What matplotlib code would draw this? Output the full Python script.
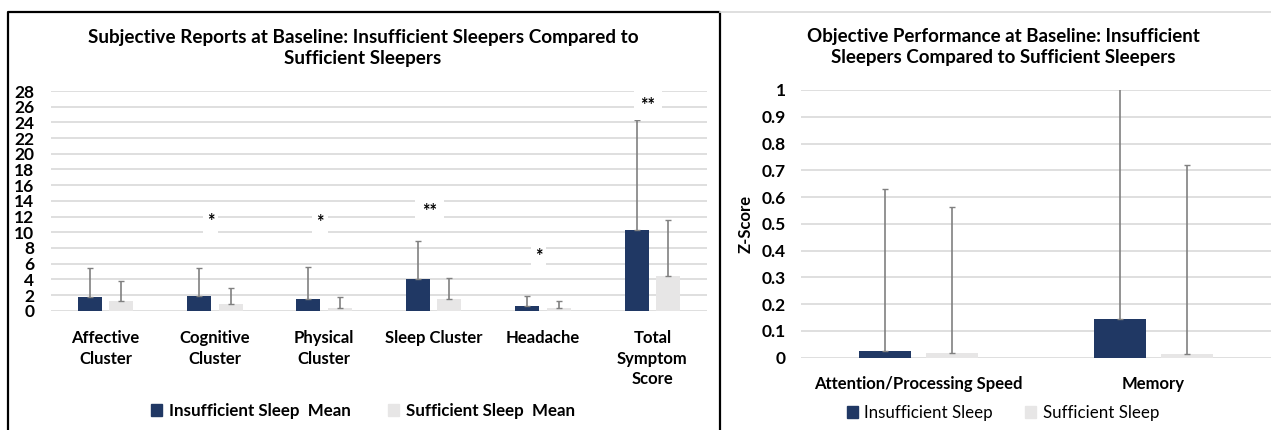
import numpy as np
import matplotlib
matplotlib.use('Agg')
import matplotlib.pyplot as plt
from matplotlib.patches import Patch
from matplotlib.lines import Line2D

plt.rcParams['font.family'] = ['Lato', 'DejaVu Sans']
plt.rcParams['font.weight'] = 'bold'

# left chart: subjective reports
subj_cats = ['Affective\nCluster', 'Cognitive\nCluster', 'Physical\nCluster',
             'Sleep Cluster', 'Headache', 'Total\nSymptom\nScore']
subj_insuff = [1.78, 1.92, 1.54, 4.04, 0.64, 10.29]
subj_insuff_sd = [3.62, 3.52, 4.03, 4.84, 1.23, 14.06]
subj_suff = [1.24, 0.85, 0.35, 1.49, 0.30, 4.38]
subj_suff_sd = [2.50, 2.05, 1.35, 2.71, 0.90, 7.18]
subj_sig = ['', '*', '*', '**', '*', '**']
subj_sig_y = [0, 11.4, 11.3, 12.7, 6.9, 26.2]

# right chart: objective performance
obj_cats = ['Attention/Processing Speed', 'Memory']
obj_insuff = [0.025, 0.145]
obj_insuff_sd = [0.605, 0.90]
obj_suff = [0.018, 0.012]
obj_suff_sd = [0.545, 0.707]

NAVY = '#203864'
LIGHT = '#E7E6E6'
GRID = '#D9D9D9'
ERR = '#808080'

W, H = 1271, 430
fig = plt.figure(figsize=(W / 100, H / 100), dpi=100)


def px_axes(x0, x1, ytop, ybot):
    return fig.add_axes([x0 / W, 1 - ybot / H, (x1 - x0) / W, (ybot - ytop) / H])


def style(ax):
    for s in ax.spines.values():
        s.set_visible(False)
    ax.tick_params(length=0)
    ax.grid(axis='y', color=GRID, lw=1.2)
    ax.set_axisbelow(True)


def draw_bars(ax, cats, a, a_sd, b, b_sd):
    x = np.arange(len(cats))
    w, off = 0.22, 0.144
    ax.bar(x - off, a, w, color=NAVY, zorder=2)
    ax.bar(x + off, b, w, color=LIGHT, zorder=2)
    ax.errorbar(x - off, a, yerr=[np.zeros(len(a)), a_sd], fmt='none',
                ecolor=ERR, elinewidth=1.2, capsize=2.5, capthick=1, zorder=3)
    ax.errorbar(x + off, b, yerr=[np.zeros(len(b)), b_sd], fmt='none',
                ecolor=ERR, elinewidth=1.2, capsize=2.5, capthick=1, zorder=3)
    ax.set_xlim(-0.5, len(cats) - 0.5)
    ax.set_xticks(x)
    ax.set_xticklabels(cats, fontsize=12, fontweight='bold', linespacing=1.35)
    return x


# left
ax1 = px_axes(50.8, 707, 91, 310.7)
style(ax1)
x1 = draw_bars(ax1, subj_cats, subj_insuff, subj_insuff_sd, subj_suff, subj_suff_sd)
ax1.set_ylim(0, 28)
ax1.set_yticks(np.arange(0, 29, 2))
ax1.tick_params(axis='y', labelsize=12.5, pad=12)
ax1.tick_params(axis='x', pad=14)
for xi, s, yv in zip(x1, subj_sig, subj_sig_y):
    if s:
        ax1.text(xi - 0.04, yv, s, ha='center', va='center', fontsize=13, zorder=4,
                 bbox=dict(facecolor='white', edgecolor='none', pad=3 if len(s) == 1 else 5))

# right
ax2 = px_axes(801, 1271, 90, 357.7)
style(ax2)
draw_bars(ax2, obj_cats, obj_insuff, obj_insuff_sd, obj_suff, obj_suff_sd)
ax2.set_ylim(0, 1)
ax2.set_yticks(np.arange(0, 1.01, 0.1))
ax2.set_yticklabels(['%g' % round(v, 1) for v in np.arange(0, 1.01, 0.1)])
ax2.tick_params(axis='y', labelsize=12.5, pad=11)
ax2.tick_params(axis='x', pad=13)
ax2.set_ylabel('Z-Score', fontsize=12, fontweight='bold', labelpad=6)

# titles
fig.text(363 / W, 1 - 48 / H,
         'Subjective Reports at Baseline: Insufficient Sleepers Compared to\nSufficient Sleepers',
         ha='center', va='center', fontsize=13.6, fontweight='bold', linespacing=1.35)
fig.text(1003 / W, 1 - 47 / H,
         'Objective Performance at Baseline: Insufficient\nSleepers Compared to Sufficient Sleepers',
         ha='center', va='center', fontsize=13.5, fontweight='bold', linespacing=1.35)

# legends
h1 = [Patch(color=NAVY), Patch(color=LIGHT)]
fig.legend(h1, ['Insufficient Sleep  Mean', 'Sufficient Sleep  Mean'], loc='center',
           bbox_to_anchor=(363 / W, 1 - 411 / H), ncol=2, frameon=False,
           prop={'size': 12.2, 'weight': 'bold'}, handlelength=0.65, handleheight=0.65,
           handletextpad=0.4, columnspacing=2.2)
fig.legend(h1, ['Insufficient Sleep', 'Sufficient Sleep'], loc='center',
           bbox_to_anchor=(1003 / W, 1 - 413 / H), ncol=2, frameon=False,
           prop={'size': 12.2, 'weight': 'normal'}, handlelength=0.65, handleheight=0.65,
           handletextpad=0.4, columnspacing=1.9)

# chart frames
fig.add_artist(Line2D([8 / W, 8 / W, 720 / W, 720 / W], [0, 1 - 12 / H, 1 - 12 / H, 0],
                      transform=fig.transFigure, color='black', lw=1.6))
fig.add_artist(Line2D([720 / W, 1], [1 - 12 / H, 1 - 12 / H],
                      transform=fig.transFigure, color=GRID, lw=1.2))

fig.savefig('out.png', dpi=100)
